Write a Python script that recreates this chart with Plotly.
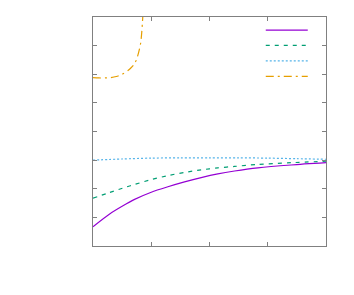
import plotly.graph_objects as go

# Series values (x in axis units, y in axis units)
x_purple = [0, 0.286, 0.571, 0.714, 1.0, 1.286, 1.571, 1.857, 2.143, 2.43, 2.83, 3.4, 4.0]
y_purple = [0.675, 1.12, 1.47, 1.63, 1.88, 2.07, 2.24, 2.39, 2.52, 2.62, 2.73, 2.83, 2.91]

x_green = [0, 0.286, 0.571, 0.714, 1.0, 1.286, 1.571, 1.857, 2.143, 2.43, 2.83, 3.4, 4.0]
y_green = [1.67, 1.87, 2.06, 2.15, 2.32, 2.46, 2.57, 2.66, 2.73, 2.78, 2.85, 2.91, 2.96]

x_cyan = [0, 0.5, 1.0, 1.5, 2.0, 2.5, 3.0, 3.5, 4.0]
y_cyan = [3.00, 3.04, 3.07, 3.08, 3.08, 3.08, 3.07, 3.05, 3.03]

x_orange = [0, 0.1, 0.2, 0.3, 0.4, 0.5, 0.6, 0.65, 0.7, 0.75, 0.8, 0.82, 0.835, 0.85, 0.86, 0.87]
y_orange = [5.88, 5.87, 5.87, 5.88, 5.92, 6.00, 6.13, 6.22, 6.33, 6.53, 6.90, 7.12, 7.42, 7.85, 8.2, 8.7]

series_names = [" ", " ", " ", " "]

x_range = [0, 4]
y_range = [0, 8]
x_ticks = [0, 1, 2, 3, 4]
y_ticks = [0, 1, 2, 3, 4, 5, 6, 7, 8]

# legend key rows (paper fractions)
legend_rows = [0.943, 0.876, 0.808, 0.741]
legend_x = 0.72

colors = ["#9400D3", "#009E73", "#56B4E9", "#E69F00"]
dashes = ["solid", "4px,5px", "2px,2px", "8px,4px,2px,4px"]
xs = [x_purple, x_green, x_cyan, x_orange]
ys = [y_purple, y_green, y_cyan, y_orange]
legend_ids = ["legend", "legend2", "legend3", "legend4"]

fig = go.Figure()
for i in range(4):
    fig.add_trace(go.Scatter(x=xs[i], y=ys[i], mode="lines", name=series_names[i],
                             legend=legend_ids[i],
                             line=dict(color=colors[i], width=1.2, dash=dashes[i],
                                       shape="spline", smoothing=0.8)))

axis_common = dict(showgrid=False, zeroline=False, showticklabels=False,
                   ticks="inside", ticklen=4, tickcolor="#808080", tickwidth=1,
                   showline=True, linecolor="#808080", linewidth=1, mirror="ticks")

legend_style = dict(xanchor="left", yanchor="middle", bgcolor="rgba(0,0,0,0)",
                    font=dict(size=10), itemwidth=42, borderwidth=0)

fig.update_layout(
    width=338, height=279, autosize=False,
    margin=dict(l=85, r=20, t=9, b=41, autoexpand=False),
    paper_bgcolor="white", plot_bgcolor="white",
    xaxis=dict(range=x_range, tickvals=x_ticks, **axis_common),
    yaxis=dict(range=y_range, tickvals=y_ticks, **axis_common),
    showlegend=True,
    legend=dict(x=legend_x, y=legend_rows[0], **legend_style),
    legend2=dict(x=legend_x, y=legend_rows[1], **legend_style),
    legend3=dict(x=legend_x, y=legend_rows[2], **legend_style),
    legend4=dict(x=legend_x, y=legend_rows[3], **legend_style),
)
fig.write_html("out.html")
